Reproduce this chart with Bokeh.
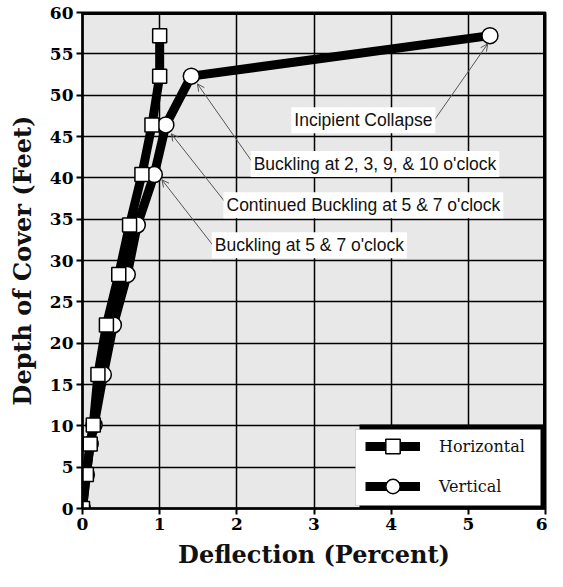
from bokeh.plotting import figure
from bokeh.models import (Range1d, FixedTicker, Legend, LegendItem, Label, Arrow,
                          OpenHead, BoxAnnotation, Span)
from bokeh.embed import file_html
from bokeh.resources import INLINE

# ---- data ----
depth_h = [0, 4.1, 7.8, 10.1, 16.2, 22.2, 28.3, 34.3, 40.4, 46.4, 52.3, 57.2]
defl_h = [0, 0.05, 0.10, 0.14, 0.20, 0.31, 0.47, 0.61, 0.77, 0.90, 1.00, 1.00]

depth_v = [0, 4.1, 7.8, 10.1, 16.2, 22.2, 28.3, 34.3, 40.4, 46.4, 52.3, 57.2]
defl_v = [0, 0.05, 0.10, 0.15, 0.27, 0.40, 0.58, 0.71, 0.93, 1.08, 1.41, 5.28]

x_ticks = [0, 1, 2, 3, 4, 5, 6]
y_ticks = [0, 5, 10, 15, 20, 25, 30, 35, 40, 45, 50, 55, 60]

notes = ["Incipient Collapse",
         "Buckling at 2, 3, 9, & 10 o'clock",
         "Continued Buckling at 5 & 7 o'clock",
         "Buckling at 5 & 7 o'clock"]
note_x = [3.64, 3.79, 3.64, 2.94]
note_y = [46.98, 41.66, 36.69, 31.83]
arrow_x0 = [4.55, 2.21, 1.90, 1.71]
arrow_y0 = [46.86, 41.78, 36.45, 31.6]
arrow_x1 = [5.25, 1.49, 1.15, 1.03]
arrow_y1 = [56.2, 51.36, 45.33, 39.76]

SERIF = "DejaVu Serif"
SANS = "Liberation Sans"

p = figure(width=547, height=571, output_backend="svg", toolbar_location=None,
           x_range=Range1d(0, 6), y_range=Range1d(0, 60),
           min_border_left=82, min_border_right=2, min_border_top=12, min_border_bottom=60)

p.background_fill_color = "#e8e8e8"
p.border_fill_color = "white"
p.outline_line_color = "black"
p.outline_line_width = 2

for ax, ticks in ((p.xaxis[0], x_ticks), (p.yaxis[0], y_ticks)):
    ax.ticker = FixedTicker(ticks=ticks)
    ax.axis_line_color = "black"
    ax.axis_line_width = 2.5
    ax.major_tick_out = 6
    ax.major_tick_in = 0
    ax.major_tick_line_width = 2
    ax.minor_tick_line_color = None
    ax.major_label_standoff = 3
    ax.axis_label_text_color = "#111111"

p.axis.major_label_text_font = SERIF
p.axis.major_label_text_font_style = "bold"
p.axis.major_label_text_font_size = "17px"
p.axis.major_label_text_color = "black"
p.axis.axis_label_text_font = SERIF
p.axis.axis_label_text_font_style = "bold"
p.axis.axis_label_text_font_size = "24px"

p.xaxis[0].axis_label_standoff = 7
p.yaxis[0].axis_label_standoff = 10
p.xaxis.axis_label = "Deflection (Percent)"
p.yaxis.axis_label = "Depth of Cover (Feet)"

p.xgrid.ticker = FixedTicker(ticks=x_ticks)
p.ygrid.ticker = FixedTicker(ticks=y_ticks)
p.grid.grid_line_color = "black"
p.grid.grid_line_width = 1.5
p.grid.grid_line_alpha = 1

# thick top/right frame edges
p.add_layout(Span(location=60, dimension="width", line_color="black", line_width=5))
p.add_layout(Span(location=6, dimension="height", line_color="black", line_width=5))

# series
lv = p.line(defl_v, depth_v, line_color="black", line_width=9, line_join="round")
sv = p.scatter(defl_v, depth_v, marker="circle", size=16, fill_color="white",
               line_color="black", line_width=1.5)
lh = p.line(defl_h, depth_h, line_color="black", line_width=9, line_join="round")
sh = p.scatter(defl_h, depth_h, marker="square", size=14, fill_color="white",
               line_color="black", line_width=1.5)

# annotations
for i in range(len(notes)):
    p.add_layout(Arrow(x_start=arrow_x0[i], y_start=arrow_y0[i],
                       x_end=arrow_x1[i], y_end=arrow_y1[i],
                       line_color="#555555", line_width=1,
                       end=OpenHead(size=7, line_color="#555555", line_width=1)))
for i in range(len(notes)):
    p.add_layout(Label(x=note_x[i], y=note_y[i], text=notes[i],
                       text_align="center", text_baseline="middle",
                       text_font=SANS, text_font_size="17.5px", text_color="#111111",
                       background_fill_color="white", padding=3))

# legend box with shadow
p.add_layout(BoxAnnotation(left=277, bottom=0, top=84, left_units="screen",
                           bottom_units="screen", top_units="screen",
                           fill_color="black", fill_alpha=1, line_alpha=0))
p.add_layout(BoxAnnotation(left=273, right=458, bottom=3, top=79, left_units="screen",
                           right_units="screen", bottom_units="screen", top_units="screen",
                           fill_color="white", fill_alpha=1, line_color="#888888",
                           line_width=1))

legend = Legend(items=[LegendItem(label="Horizontal", renderers=[lh, sh]),
                       LegendItem(label="Vertical", renderers=[lv, sv])],
                location=(283, 4), glyph_width=55, glyph_height=36, spacing=4,
                padding=0, margin=0, label_standoff=19, label_height=36,
                label_text_font=SERIF, label_text_font_size="16px",
                label_text_color="#111111",
                background_fill_alpha=0, border_line_alpha=0)
p.add_layout(legend)

open("out.html", "w").write(file_html(p, INLINE))
